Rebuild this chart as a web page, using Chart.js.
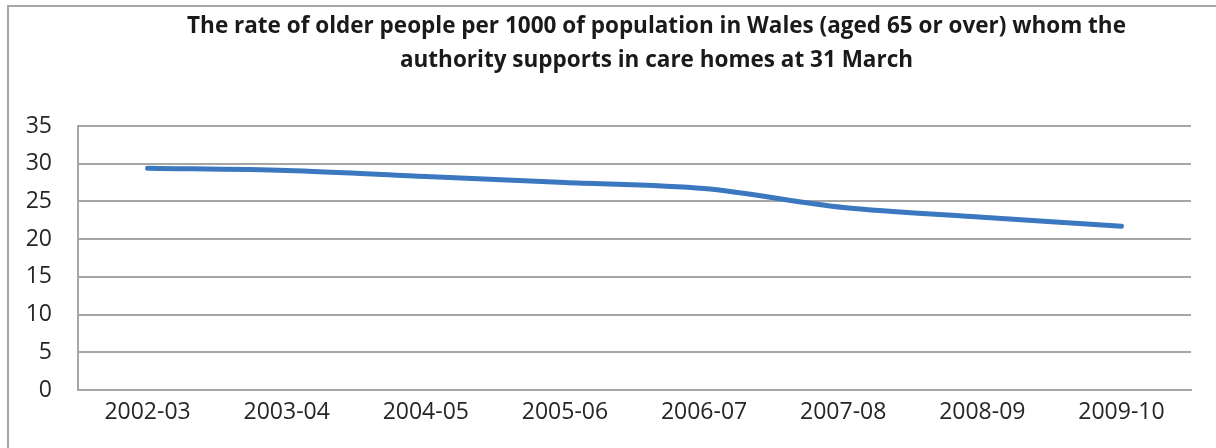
<!DOCTYPE html>
<html>
<head>
<meta charset="utf-8">
<script src="https://cdn.jsdelivr.net/npm/chart.js@4"></script>
<style>
    html, body { margin: 0; padding: 0; background: #ffffff; }
    #marco {
        position: absolute;
        left: 7px;
        top: 5px;
        width: 1209px;
        height: 443px;
        border-top: 2px solid #a6a6a6;
        border-left: 2px solid #a6a6a6;
        box-sizing: border-box;
    }
    #graficoTasa { display: block; }
</style>
</head>
<body>
<div id="marco">
    <canvas id="graficoTasa" width="1207" height="441"></canvas>
</div>
<script>
    // Datos del gráfico
    const anios = ["2002-03", "2003-04", "2004-05", "2005-06", "2006-07", "2007-08", "2008-09", "2009-10"];
    const tasas = [29.4, 29.1, 28.3, 27.5, 26.7, 24.2, 22.9, 21.7];
    const marcasY = [0, 5, 10, 15, 20, 25, 30, 35];
    const titulo = [
        "The rate of older people per 1000 of population in Wales (aged 65 or over) whom the",
        "authority supports in care homes at 31 March"
    ];

    const gris = "#a6a6a6";

    // Título dibujado a mano (centrado como en el original)
    const tituloPlugin = {
        id: "tituloPlugin",
        afterDraw(chart) {
            const ctx = chart.ctx;
            ctx.save();
            ctx.font = "bold 22.5px 'Open Sans'";
            ctx.fillStyle = "#1a1a1a";
            ctx.textAlign = "center";
            ctx.textBaseline = "middle";
            const cx = (chart.chartArea.left + chart.chartArea.right) / 2 + 22;
            titulo.forEach((linea, i) => {
                ctx.fillText(linea, cx, 20 + i * 34);
            });
            ctx.restore();
        }
    };

    new Chart(document.getElementById("graficoTasa"), {
        type: "line",
        data: {
            labels: anios,
            datasets: [{
                label: "Rate per 1000",
                data: tasas,
                borderColor: "#3b78bf",
                borderWidth: 5,
                borderCapStyle: "round",
                tension: 0.3,
                pointRadius: 0,
                fill: false
            }]
        },
        options: {
            responsive: false,
            animation: false,
            layout: { padding: { top: 119, right: 25, left: 0, bottom: 0 } },
            plugins: {
                legend: { display: false },
                title: { display: false },
                tooltip: { enabled: false }
            },
            scales: {
                x: {
                    offset: true,
                    grid: { display: false, drawTicks: false },
                    border: { display: true, color: gris, width: 2 },
                    ticks: {
                        padding: 9,
                        color: "#262626",
                        font: { family: "'Open Sans'", size: 23 }
                    },
                    afterFit: (escala) => { escala.height = 58; }
                },
                y: {
                    min: 0,
                    max: 35,
                    afterBuildTicks: (escala) => {
                        escala.ticks = marcasY.map(v => ({ value: v }));
                    },
                    grid: { color: gris, lineWidth: 2, drawTicks: false },
                    border: { display: true, color: gris, width: 2 },
                    ticks: {
                        padding: 26,
                        color: "#262626",
                        font: { family: "'Open Sans'", size: 23 }
                    },
                    afterFit: (escala) => { escala.width = 69; }
                }
            }
        },
        plugins: [tituloPlugin]
    });
</script>
</body>
</html>
